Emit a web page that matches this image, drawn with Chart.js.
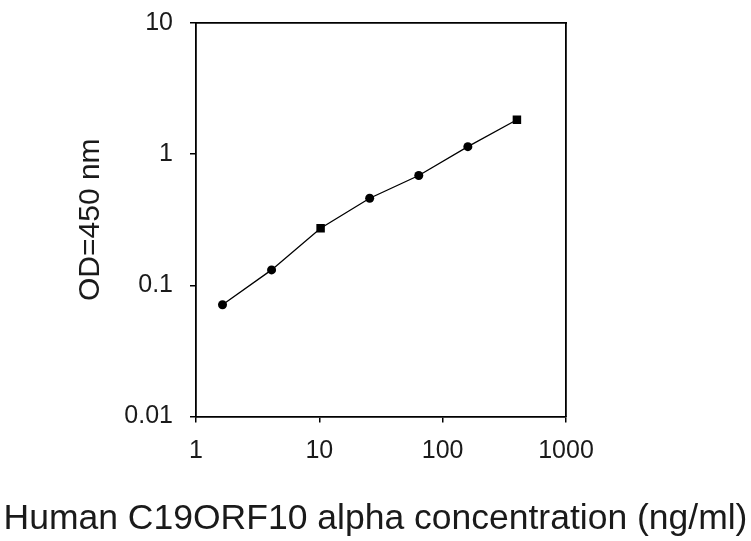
<!DOCTYPE html>
<html>
<head>
<meta charset="utf-8">
<title>Human C19ORF10 alpha standard curve</title>
<script src="https://cdn.jsdelivr.net/npm/chart.js@4.4.1/dist/chart.umd.min.js"></script>
<style>
   html, body { margin: 0; padding: 0; background: #fff; }
   #wrap { width: 751px; height: 541px; }
</style>
</head>
<body>
<div id="wrap"><canvas id="chart" width="751" height="541"></canvas></div>
<script>
// standard curve values
const concentrations = [1.64, 4.1, 10.24, 25.6, 64, 160, 400];
const odValues = [0.071, 0.131, 0.272, 0.461, 0.687, 1.14, 1.83];
const xTicks = [1, 10, 100, 1000];
const yTicks = [0.01, 0.1, 1, 10];
const xLabels = ["1", "10", "100", "1000"];
const yLabels = ["0.01", "0.1", "1", "10"];

const FONT = "'Liberation Sans', Arial, sans-serif";
const TEXT = "#1a1a1a";

function pickTicks(values) {
   return function (scale) {
      scale.ticks = values.map((v) => ({ value: v }));
   };
}

const points = concentrations.map((c, i) => ({ x: c, y: odValues[i] }));

const ctx = document.getElementById("chart").getContext("2d");
const chart = new Chart(ctx, {
   type: "scatter",
   data: {
      datasets: [
         {
            label: "OD",
            data: points,
            showLine: true,
            borderColor: "#000",
            borderWidth: 1.3,
            backgroundColor: "#000",
            pointStyle: ["circle", "circle", "rect", "circle", "circle", "circle", "rect"],
            pointRadius: [4.5, 4.5, 6, 4.5, 4.5, 4.5, 6],
            pointBorderWidth: 0,
         },
      ],
   },
   options: {
      responsive: false,
      animation: false,
      layout: { padding: { left: 0, right: 0, top: 23, bottom: 0 } },
      plugins: {
         legend: { display: false },
         tooltip: { enabled: false },
         // x axis title spans the whole width, so it goes in the chart title box
         title: {
            display: true,
            position: "bottom",
            text: "Human C19ORF10 alpha concentration (ng/ml)",
            color: TEXT,
            font: { family: FONT, size: 35.5, weight: "normal", lineHeight: 1.2 },
            padding: { top: 0, bottom: 0 },
         },
      },
      scales: {
         x: {
            type: "logarithmic",
            position: "bottom",
            min: 1,
            max: 1000,
            afterBuildTicks: pickTicks(xTicks),
            afterFit: (scale) => { scale.height = 82; },
            grid: { drawOnChartArea: false, drawTicks: true, tickLength: 6, color: "#000", lineWidth: 1.5 },
            border: { display: true, color: "#000", width: 1.8 },
            ticks: {
               autoSkip: false,
               maxRotation: 0,
               padding: 14,
               color: TEXT,
               font: { family: FONT, size: 25 },
               callback: (value) => xLabels[xTicks.indexOf(value)],
            },
         },
         y: {
            type: "logarithmic",
            position: "left",
            min: 0.01,
            max: 10,
            afterBuildTicks: pickTicks(yTicks),
            afterFit: (scale) => {
               scale.width = 196;
               // the top label may stick out above the frame
               scale.paddingTop = 0;
               scale.paddingBottom = 0;
            },
            grid: { drawOnChartArea: false, drawTicks: true, tickLength: 6, color: "#000", lineWidth: 1.5 },
            border: { display: true, color: "#000", width: 1.8 },
            ticks: {
               autoSkip: false,
               padding: 17,
               color: TEXT,
               font: { family: FONT, size: 25 },
               callback: (value) => yLabels[yTicks.indexOf(value)],
            },
            title: {
               display: true,
               text: "OD=450 nm",
               color: TEXT,
               font: { family: FONT, size: 30 },
               padding: { top: 73, bottom: 0 },
            },
         },
         // frame on the top and right sides
         xTop: {
            type: "logarithmic",
            position: "top",
            min: 1,
            max: 1000,
            afterFit: (scale) => { scale.height = 0; },
            grid: { display: false },
            ticks: { display: false },
            border: { display: true, color: "#000", width: 1.8 },
         },
         yRight: {
            type: "logarithmic",
            position: "right",
            min: 0.01,
            max: 10,
            afterFit: (scale) => { scale.width = 185; },
            grid: { display: false },
            ticks: { display: false },
            border: { display: true, color: "#000", width: 1.8 },
         },
      },
   },
});
</script>
</body>
</html>
